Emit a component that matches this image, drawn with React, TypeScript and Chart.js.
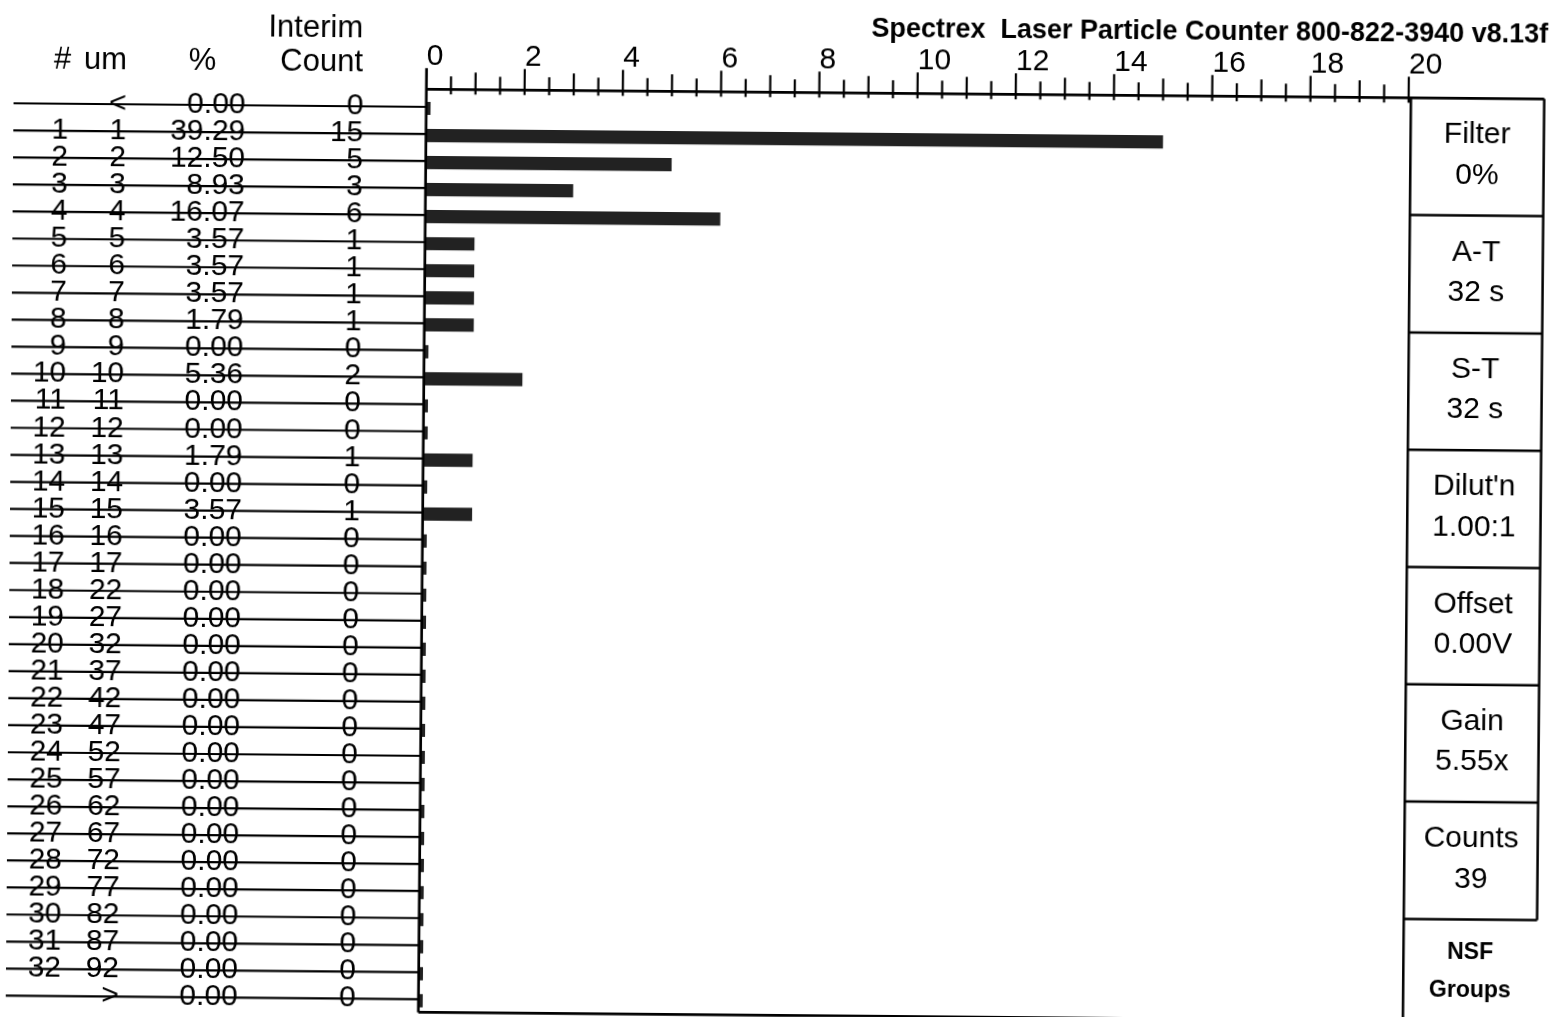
import React, { useEffect, useRef } from 'react';
import { Chart, registerables } from 'chart.js';

Chart.register(...registerables);

// ---- data ----
const binNumbers = ['', '1', '2', '3', '4', '5', '6', '7', '8', '9', '10', '11', '12', '13', '14', '15', '16', '17', '18', '19', '20', '21', '22', '23', '24', '25', '26', '27', '28', '29', '30', '31', '32', ''];
const binSizes = ['<', '1', '2', '3', '4', '5', '6', '7', '8', '9', '10', '11', '12', '13', '14', '15', '16', '17', '22', '27', '32', '37', '42', '47', '52', '57', '62', '67', '72', '77', '82', '87', '92', '>'];
const percents = ['0.00', '39.29', '12.50', '8.93', '16.07', '3.57', '3.57', '3.57', '1.79', '0.00', '5.36', '0.00', '0.00', '1.79', '0.00', '3.57', '0.00', '0.00', '0.00', '0.00', '0.00', '0.00', '0.00', '0.00', '0.00', '0.00', '0.00', '0.00', '0.00', '0.00', '0.00', '0.00', '0.00', '0.00'];
const counts = [0, 15, 5, 3, 6, 1, 1, 1, 1, 0, 2, 0, 0, 1, 0, 1, 0, 0, 0, 0, 0, 0, 0, 0, 0, 0, 0, 0, 0, 0, 0, 0, 0, 0];
const headerTop = ['', '', '', 'Interim'];
const headerBottom = ['#', 'um', '%', 'Count'];
const panelLabels = ['Filter', 'A-T', 'S-T', "Dilut'n", 'Offset', 'Gain', 'Counts'];
const panelValues = ['0%', '32 s', '32 s', '1.00:1', '0.00V', '5.55x', '39'];
const footerLines = ['NSF', 'Groups'];
const titleText = 'Spectrex  Laser Particle Counter 800-822-3940 v8.13f';
const axisMin = 0;
const axisMax = 20;
const tickStep = 0.5;
const labelEvery = 2;

const FONT = '"Liberation Sans", Arial, Helvetica, sans-serif';

const drawPlugin = {
  id: 'particleTable',
  afterDraw(chart: any) {
    const { ctx, chartArea } = chart;
    const xs = chart.scales.x;
    const ys = chart.scales.y;
    const axisY = chartArea.top - 5.7;
    const x0 = xs.getPixelForValue(axisMin);
    const xEnd = xs.getPixelForValue(axisMax);
    const panelLeft = xEnd + 2.3;
    const panelRight = panelLeft + 133.3;
    const boxH = 117.3;
    const bottomY = chartArea.bottom - 2;

    ctx.save();
    ctx.strokeStyle = '#000';
    ctx.fillStyle = '#000';
    ctx.lineCap = 'butt';

    // table rows
    ctx.font = `30px ${FONT}`;
    ctx.textBaseline = 'alphabetic';
    ctx.textAlign = 'right';
    const colRight = [65, 123, 242, 360];
    binSizes.forEach((_, i) => {
      const cy = ys.getPixelForValue(i);
      const ly = cy - 1.5;
      const by = ly + 8;
      ctx.fillText(binNumbers[i], colRight[0], by);
      ctx.fillText(binSizes[i], colRight[1], by);
      ctx.fillText(percents[i], colRight[2], by);
      ctx.fillText(String(counts[i]), colRight[3], by);
      ctx.lineWidth = 2.2;
      ctx.beginPath();
      ctx.moveTo(10, ly);
      ctx.lineTo(x0, ly);
      ctx.stroke();
    });

    // headers
    ctx.font = `31px ${FONT}`;
    ctx.textAlign = 'right';
    ctx.fillText(headerTop[3], 359, 41);
    ctx.fillText(headerBottom[3], 359, 75);
    ctx.fillText(headerBottom[1], 123, 75);
    ctx.textAlign = 'left';
    ctx.fillText(headerBottom[0], 50, 75);
    ctx.textAlign = 'center';
    ctx.fillText(headerBottom[2], 198.5, 75);

    // top axis line and ticks
    ctx.lineWidth = 2.7;
    ctx.beginPath();
    ctx.moveTo(x0, axisY);
    ctx.lineTo(panelRight, axisY);
    ctx.stroke();
    ctx.lineWidth = 2.2;
    xs.ticks.forEach((t: any) => {
      const v = t.value;
      if (v === axisMin) return;
      const px = xs.getPixelForValue(v);
      const len = v % labelEvery === 0 ? 21 : Number.isInteger(v) ? 17 : 13;
      ctx.beginPath();
      ctx.moveTo(px, axisY - len);
      ctx.lineTo(px, axisY + 5);
      ctx.stroke();
    });

    // left axis
    ctx.lineWidth = 2.7;
    ctx.beginPath();
    ctx.moveTo(x0, axisY - 21);
    ctx.lineTo(x0, bottomY);
    ctx.stroke();
    // bottom line
    ctx.beginPath();
    ctx.moveTo(x0, bottomY);
    ctx.lineTo(panelLeft, bottomY);
    ctx.stroke();

    // right panel
    ctx.lineWidth = 2.5;
    ctx.beginPath();
    ctx.moveTo(panelLeft, axisY);
    ctx.lineTo(panelLeft, chartArea.bottom + 10);
    ctx.moveTo(panelRight, axisY);
    ctx.lineTo(panelRight, axisY + boxH * panelLabels.length);
    for (let k = 1; k <= panelLabels.length; k++) {
      ctx.moveTo(panelLeft, axisY + boxH * k);
      ctx.lineTo(panelRight, axisY + boxH * k);
    }
    ctx.stroke();

    const pcx = (panelLeft + panelRight) / 2;
    ctx.textAlign = 'center';
    ctx.font = `30px ${FONT}`;
    panelLabels.forEach((lab, k) => {
      const top = axisY + boxH * k;
      ctx.fillText(lab, pcx, top + 45);
      ctx.fillText(panelValues[k], pcx, top + 85.5);
    });
    const ftop = axisY + boxH * panelLabels.length;
    ctx.font = `bold 23px ${FONT}`;
    ctx.fillText(footerLines[0], pcx, ftop + 39.2);
    ctx.fillText(footerLines[1], pcx, ftop + 77.2);

    // title
    ctx.font = `bold 27px ${FONT}`;
    ctx.textAlign = 'right';
    ctx.fillText(titleText, 1544, 35.7);

    ctx.restore();
  },
};

export default function App() {
  const canvasRef = useRef<HTMLCanvasElement | null>(null);

  useEffect(() => {
    document.body.style.margin = '0';
    const canvas = canvasRef.current;
    if (!canvas) return;
    const chart = new Chart(canvas, {
      type: 'bar',
      data: {
        labels: binSizes,
        datasets: [
          {
            data: counts,
            backgroundColor: '#222222',
            borderWidth: 0,
            barThickness: 12.5,
            minBarLength: 4,
          },
        ],
      },
      options: {
        indexAxis: 'y',
        animation: false,
        responsive: false,
        devicePixelRatio: 1,
        layout: { padding: { left: 422.7, right: 158, top: 22, bottom: 7.6 } },
        plugins: {
          legend: { display: false },
          tooltip: { enabled: false },
          title: { display: false },
        },
        scales: {
          x: {
            position: 'top',
            min: axisMin,
            max: axisMax,
            grid: { display: false, drawTicks: false },
            border: { display: false },
            ticks: {
              stepSize: tickStep,
              autoSkip: false,
              maxRotation: 0,
              minRotation: 0,
              align: 'start',
              padding: 20,
              color: '#000',
              font: { family: FONT, size: 30 },
              callback: (v: any) => (Number(v) % labelEvery === 0 ? String(v) : ''),
            },
          },
          y: {
            grid: { display: false, drawTicks: false },
            border: { display: false },
            ticks: { display: false },
          },
        },
      },
      plugins: [drawPlugin],
    } as any);
    return () => chart.destroy();
  }, []);

  return (
    <div style={{ position: 'fixed', left: 0, top: 0, width: 1563, height: 1017, overflow: 'hidden', background: '#fff' }}>
      <canvas
        ref={canvasRef}
        width={1563}
        height={1025}
        style={{ display: 'block', width: 1563, height: 1025, transform: 'rotate(0.5deg)', transformOrigin: '50% 50%' }}
      />
    </div>
  );
}
